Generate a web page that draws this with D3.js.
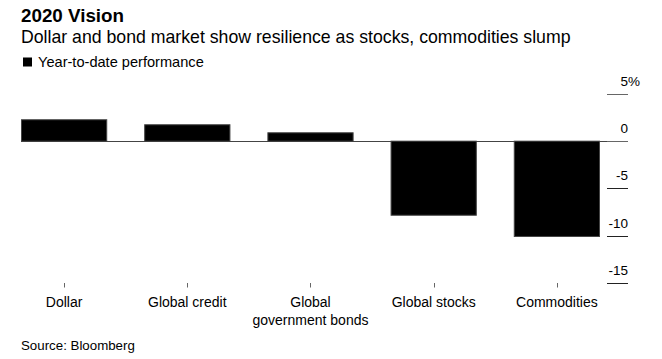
<!DOCTYPE html>
<html>
<head>
<meta charset="utf-8">
<script src="https://cdn.jsdelivr.net/npm/d3@7"></script>
<style>
  html, body { margin: 0; padding: 0; background: #fff; }
  text { font-family: "Liberation Sans", Arial, Helvetica, sans-serif; }
</style>
</head>
<body>
<svg id="chart" width="662" height="359"></svg>
<script>
const categories = ["Dollar", "Global credit", "Global government bonds", "Global stocks", "Commodities"];
const categoryLines = [["Dollar"], ["Global credit"], ["Global", "government bonds"], ["Global stocks"], ["Commodities"]];
const values = [2.27, 1.74, 0.89, -7.85, -10.1];
const yTicks = [5, 0, -5, -10, -15];
const title = "2020 Vision";
const subtitle = "Dollar and bond market show resilience as stocks, commodities slump";
const legendLabel = "Year-to-date performance";
const source = "Source: Bloomberg";

const svg = d3.select("#chart");

svg.append("text").attr("x", 21).attr("y", 21.7)
  .attr("font-size", 18.8).attr("font-weight", "bold").attr("fill", "#000").text(title);
svg.append("text").attr("x", 21).attr("y", 43.3)
  .attr("font-size", 17.7).attr("fill", "#000").text(subtitle);
svg.append("rect").attr("x", 23).attr("y", 57.5).attr("width", 9).attr("height", 9).attr("fill", "#000");
svg.append("text").attr("x", 38).attr("y", 66.7)
  .attr("font-size", 14.6).attr("fill", "#000").text(legendLabel);

const x = d3.scaleBand().domain(categories).range([21, 600]).paddingInner(0.3).paddingOuter(0);
const y = d3.scaleLinear().domain([5, -15]).range([94, 282.7]);

const tickX0 = 607, tickX1 = 628;

// y ticks (right side)
const yg = svg.append("g");
yTicks.forEach(t => {
  yg.append("line").attr("x1", tickX0).attr("x2", tickX1)
    .attr("y1", Math.round(y(t)) + 0.5).attr("y2", Math.round(y(t)) + 0.5)
    .attr("stroke", t >= 0 ? "#666" : "#222").attr("stroke-width", 1);
  yg.append("text").attr("x", tickX1).attr("y", y(t) - 8)
    .attr("text-anchor", "end").attr("font-size", 13.5).attr("fill", "#000")
    .text(String(t));
  if (t === yTicks[0]) {
    yg.append("text").attr("x", tickX1).attr("y", y(t) - 8)
      .attr("text-anchor", "start").attr("font-size", 13.5).attr("fill", "#000").text("%");
  }
});

// zero line
svg.append("line").attr("x1", x.range()[0]).attr("x2", tickX0)
  .attr("y1", Math.round(y(0)) + 0.5).attr("y2", Math.round(y(0)) + 0.5)
  .attr("stroke", "#444").attr("stroke-width", 1);

// bars
svg.append("g").selectAll("rect").data(values).join("rect")
  .attr("x", (d, i) => x(categories[i]) + 0.5)
  .attr("y", d => Math.min(y(d), y(0)))
  .attr("width", x.bandwidth() - 1)
  .attr("height", d => Math.abs(y(d) - y(0)))
  .attr("fill", "#000").attr("stroke", "#444").attr("stroke-width", 1);

// x axis ticks & labels
const xg = svg.append("g");
categories.forEach((c, i) => {
  const cx = x(c) + x.bandwidth() / 2;
  xg.append("line").attr("x1", Math.round(cx) + 0.5).attr("x2", Math.round(cx) + 0.5)
    .attr("y1", 283).attr("y2", 287.5).attr("stroke", "#666");
  const t = xg.append("text").attr("text-anchor", "middle").attr("font-size", 14).attr("fill", "#000");
  categoryLines[i].forEach((ln, k) => {
    t.append("tspan").attr("x", cx).attr("y", 307 + k * 18).text(ln);
  });
});

svg.append("text").attr("x", 21).attr("y", 350)
  .attr("font-size", 13.3).attr("fill", "#000").text(source);
</script>
</body>
</html>
